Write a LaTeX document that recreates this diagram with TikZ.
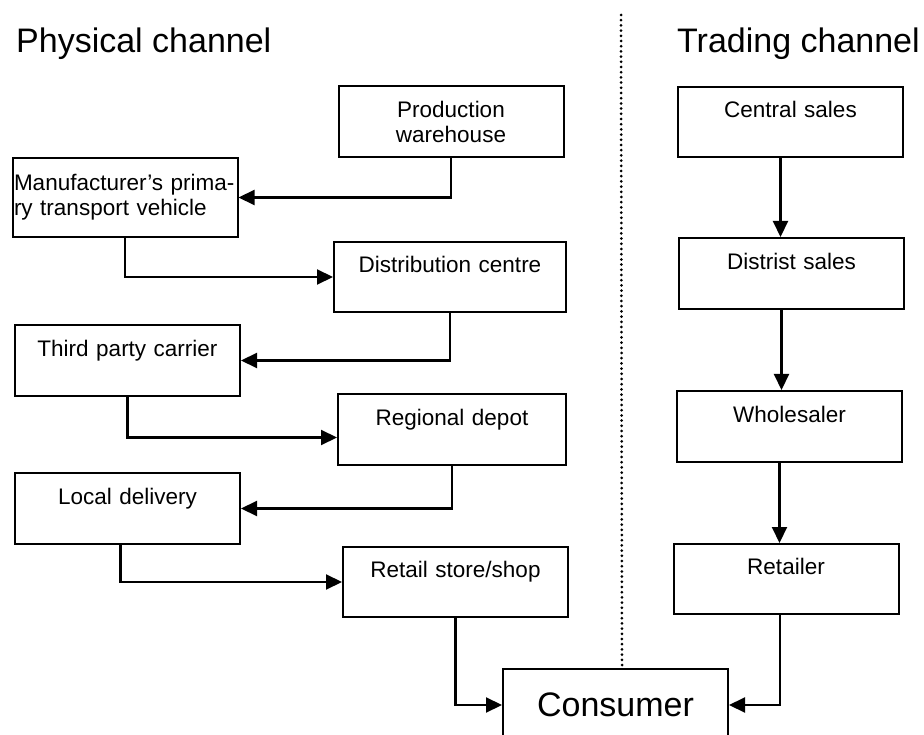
\documentclass[tikz,border=0pt]{standalone}
\usepackage{fontspec}
\setmainfont{Liberation Sans}
\usetikzlibrary{arrows.meta,positioning}

\tikzset{
  blocco/.style={draw, rectangle, line width=2pt, inner sep=0pt,
    minimum width=225pt, minimum height=71pt, text width=215pt,
    align=center, font=\fontsize{22.5}{25}\selectfont},
  freccia/.style={line width=2.1pt, -{Triangle[length=16pt,width=15pt]}},
  titolo/.style={anchor=base west, inner sep=0pt, font=\fontsize{34}{40}\selectfont}
}

\begin{document}
\begin{tikzpicture}[x=1pt,y=-1pt]
	\useasboundingbox (0,0) rectangle (924,735);
	\def\sx{10pt}% spostamento frecce a destra
	% titoli
	\node[titolo] (tfis) at (16,53) {Physical channel};
	\node[titolo] (tcom) at (677,53) {Trading channel};
	% separatore
	\coordinate (sepA) at (621,15);
	\coordinate (sepB) at (622,665);
	\draw[line width=3pt, line cap=round, dash pattern=on 0pt off 5.2pt] (sepA) -- (sepB);
	% canale fisico
	\node[blocco] (pw) at (451,122) {Production\\warehouse};
	\node[blocco, minimum height=79pt, text width=222pt, align=left] (mfr) at (125,197.5)
		{Manufacturer’s prima-\\ry transport vehicle};
	\node[blocco, minimum width=232pt, minimum height=70pt] (dc) at (450,277) {Distribution centre\\\mbox{}};
	\node[blocco] (tpc) at (127.5,360.5) {Third party carrier\\\mbox{}};
	\node[blocco, minimum width=228pt] (rd) at (452,429.5) {Regional depot\\\mbox{}};
	\node[blocco] (ld) at (127.5,508.5) {Local delivery\\\mbox{}};
	\node[blocco, minimum height=70pt] (rs) at (455.5,582) {Retail store/shop\\\mbox{}};
	% consumatore
	\node[blocco, minimum height=72pt, font=\fontsize{34}{40}\selectfont] (con) at (615.5,705) {Consumer};
	% canale commerciale
	\node[blocco, minimum height=70pt] (cs) at (790.5,122) {Central sales\\\mbox{}};
	\node[blocco] (ds) at (791.5,273.5) {Distrist sales\\\mbox{}};
	\node[blocco] (wh) at (789.5,426.5) {Wholesaler\\\mbox{}};
	\node[blocco, minimum height=70pt] (rt) at (786,579) {Retailer\\\mbox{}};
	% collegamenti canale fisico
	\draw[freccia] (pw.south) |- (mfr.east);
	\draw[freccia] (mfr.south) |- (dc.west);
	\draw[freccia] (dc.south) |- (tpc.east);
	\draw[freccia] (tpc.south) |- ([yshift=-8pt]rd.west);
	\draw[freccia] (rd.south) |- (ld.east);
	\draw[freccia] ([xshift=-7pt]ld.south) |- (rs.west);
	\draw[freccia] (rs.south) |- (con.west);
	% collegamenti canale commerciale
	\draw[freccia] ([xshift=-\sx]cs.south) -- ([xshift=-\sx]cs.south |- ds.north);
	\draw[freccia] ([xshift=-\sx]ds.south) -- ([xshift=-\sx]ds.south |- wh.north);
	\draw[freccia] ([xshift=-\sx]wh.south) -- ([xshift=-\sx]wh.south |- rt.north);
	\draw[freccia] ([xshift=-6pt]rt.south) |- (con.east);
\end{tikzpicture}
\end{document}
